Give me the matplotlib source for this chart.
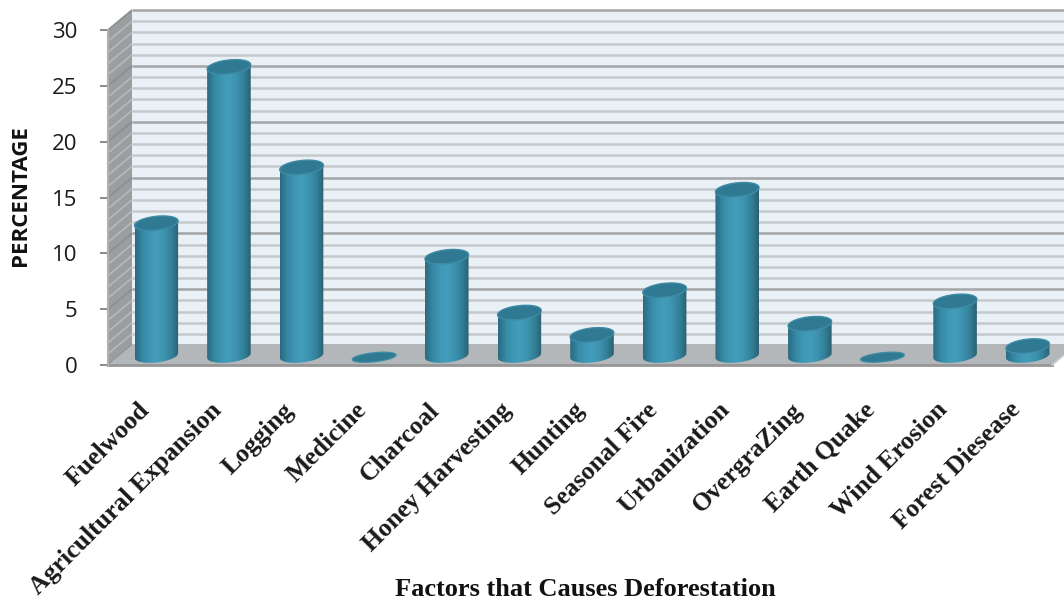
import numpy as np
import matplotlib
matplotlib.use("Agg")
import matplotlib.pyplot as plt
from matplotlib.colors import LinearSegmentedColormap
from matplotlib.patches import Polygon
from matplotlib.transforms import ScaledTranslation

categories = ["Fuelwood", "Agricultural Expansion", "Logging", "Medicine", "Charcoal",
              "Honey Harvesting", "Hunting", "Seasonal Fire", "Urbanization", "OvergraZing",
              "Earth Quake", "Wind Erosion", "Forest Diesease"]
percentages = [12, 26, 17, 0, 9, 4, 2, 6, 15, 3, 0, 5, 1]
major_ticks = [0, 5, 10, 15, 20, 25, 30]
minor_ticks = list(range(0, 31))

W, H = 1064, 603
fig = plt.figure(figsize=(W / 100, H / 100), dpi=100, facecolor="white")
ax = fig.add_axes([108 / W, (H - 365) / H, 944 / W, 335 / H])
xmin, xmax, ymin, ymax = -0.5, 12.5, 0, 30
dx, dy = 24 / 72.6, 20 / 11.17   # depth of the 3-D box in data units
xfar = xmax + dx

ax.patch.set_visible(False)
for s in ax.spines.values():
    s.set_visible(False)

# Back wall, floor, side wall
ax.add_patch(Polygon([(xmin + dx, dy), (xfar, dy), (xfar, ymax + dy), (xmin + dx, ymax + dy)],
                     fc="#e9f0f6", ec="none", zorder=1, clip_on=False))
ax.add_patch(Polygon([(xmin, 0), (xmax, 0), (xfar, dy), (xmin + dx, dy)],
                     fc="#b3b7ba", ec="none", zorder=3, clip_on=False))
ax.add_patch(Polygon([(xmin, 0), (xmin + dx, dy), (xmin + dx, ymax + dy), (xmin, ymax)],
                     fc="#9a9e9e", ec="none", zorder=1, clip_on=False))
for v in minor_ticks:
    major = v in major_ticks
    ax.plot([xmin + dx, xfar], [v + dy, v + dy], color="#a3a5a6" if major else "#c6c9cb",
            lw=1.8, zorder=2, clip_on=False, solid_capstyle="butt")
    ax.plot([xmin, xmin + dx], [v, v + dy], color="#8b8f90" if major else "#b5b8b8",
            lw=1.3, zorder=2, clip_on=False, solid_capstyle="butt")
ax.plot([xmin, xmax], [0, 0], color="#969696", lw=2.0, zorder=4, clip_on=False)
ax.plot([xmax, xfar], [0, dy], color="#c9cbcc", lw=1.2, zorder=4, clip_on=False)
ax.plot([xmin, xmin], [0, ymax], color="#b0b0b0", lw=1.5, zorder=4, clip_on=False)

# Cylinders
cmap = LinearSegmentedColormap.from_list(
    "cyl", ["#2b6a80", "#3588a3", "#3f97b5", "#439dba", "#3d93b0", "#338199", "#2a6073"])
grad = np.linspace(0, 1, 128).reshape(1, -1)
rx, tilt = 0.30, 0.20
t = np.linspace(0, 2 * np.pi, 100)
for i, v in enumerate(percentages):
    ry = 0.62 if v > 0 else 0.40
    cx, base, top = i + dx / 2, dy / 2 - 0.05, v + dy / 2 - 0.2
    ex = cx + rx * np.cos(t)
    ew = ry * np.sin(t) + tilt * np.cos(t)
    if v > 0:
        low = t >= np.pi
        order = np.argsort(ex[low])
        bottom_edge = list(zip(ex[low][order], base + ew[low][order]))
        body = bottom_edge + [(cx + rx, top + tilt), (cx - rx, top - tilt)]
        clip = Polygon(body, transform=ax.transData, fc="none", ec="none")
        ax.add_patch(clip)
        im = ax.imshow(grad, cmap=cmap, aspect="auto", zorder=5,
                       extent=[cx - rx, cx + rx, base - ry - tilt, top + tilt])
        im.set_clip_path(clip)
    ax.fill(ex, top + ew, fc="#2f7a92", ec="#3d8ba5", lw=1.0, zorder=6)

ax.set_xlim(xmin, xmax)
ax.set_ylim(ymin, ymax)

ax.set_yticks(major_ticks)
ax.set_yticklabels([str(m) for m in major_ticks], fontfamily="Open Sans", fontsize=16, color="#1a1a1a")
ax.tick_params(axis="y", length=5.8, width=1.4, color="#8a8a8a", pad=16)
ax.set_xticks(range(len(categories)))
ax.set_xticklabels(categories, rotation=45, ha="right", va="top", rotation_mode="anchor",
                   fontfamily="Liberation Serif", fontweight="bold", fontsize=18.5, color="#1a1a1a")
ax.tick_params(axis="x", length=0, pad=24)
shift = ScaledTranslation(-7 / 100, 0, fig.dpi_scale_trans)
for lab in ax.get_xticklabels():
    lab.set_transform(lab.get_transform() + shift)

fig.text(21 / W, 1 - 196 / H, "PERCENTAGE", rotation=90, ha="center", va="center",
         fontfamily="Open Sans", fontweight="bold", fontsize=16, color="#111111")
fig.text(585 / W, 1 - 589 / H, "Factors that Causes Deforestation", ha="center", va="center",
         fontfamily="Liberation Serif", fontweight="bold", fontsize=19, color="#111111")

fig.savefig("out.png", dpi=100, facecolor="white")
